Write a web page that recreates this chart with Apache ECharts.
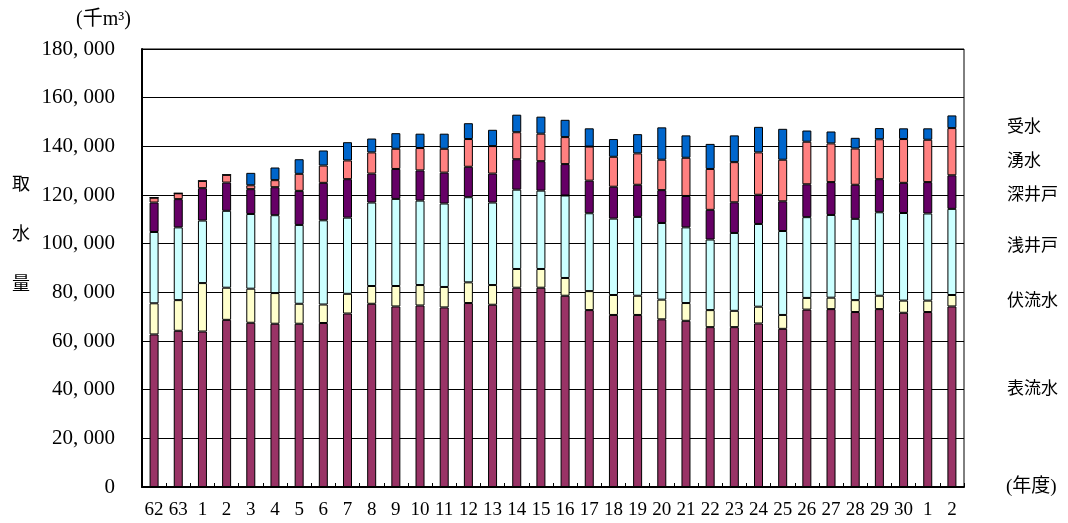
<!DOCTYPE html>
<html>
<head>
<meta charset="utf-8">
<script src="https://cdn.jsdelivr.net/npm/echarts@6.0.0/dist/echarts.min.js"></script>
<style>
  html, body { margin: 0; padding: 0; background: #fff; }
  #chart { width: 1068px; height: 523px; }
</style>
</head>
<body>
<div id="chart"></div>
<script>
// 年度（昭和62, 63, 平成1-30, 令和1, 2）
const years = ['62', '63', '1', '2', '3', '4', '5', '6', '7', '8', '9', '10', '11', '12', '13', '14', '15', '16',
  '17', '18', '19', '20', '21', '22', '23', '24', '25', '26', '27', '28', '29', '30', '1', '2'];

// 取水量（千m3）
const surfaceWater = [62700, 64200, 63900, 68700, 67500, 67100, 67100, 67400, 71300, 75300, 74200, 74600, 73800, 75600,
  74900, 81900, 81900, 78600, 72700, 70700, 70700, 68900, 68300, 65700, 65700, 67200, 65000, 72900, 73100, 71900,
  73100, 71600, 71900, 74200];
const subsurfaceWater = [12800, 12600, 19900, 13200, 14000, 12600, 8200, 7600, 8100, 7300, 8400, 8400, 8400, 8500,
  8100, 7700, 7700, 7300, 7800, 8200, 7900, 8100, 7300, 7000, 6700, 6900, 5700, 4800, 4700, 4900, 5500, 5000, 4700, 4700];
const shallowWell = [29300, 29900, 25700, 31600, 30700, 32000, 32400, 34600, 31300, 34300, 35800, 34700, 34300, 35000,
  33900, 32600, 32200, 33900, 32000, 31400, 32400, 31500, 31100, 29000, 32000, 34000, 34500, 33200, 34000, 33400,
  34300, 36000, 35800, 35400];
const deepWell = [12100, 11600, 13300, 11600, 10200, 11500, 14000, 15400, 15800, 11900, 12300, 12400, 12700, 12500,
  11900, 12500, 12100, 12900, 13400, 13100, 13200, 13500, 12900, 12200, 12600, 12000, 12200, 13500, 13500, 14000,
  13600, 12400, 12900, 13800];
const springWater = [2000, 2400, 3000, 3200, 1600, 2900, 7000, 7100, 7700, 8700, 8300, 9200, 9800, 11400,
  11300, 11100, 11300, 11100, 14000, 12300, 12900, 12500, 15700, 16800, 16500, 17400, 17100, 17500, 15900, 14900,
  16400, 18000, 17400, 19400];
const purchasedWater = [0, 0, 0, 0, 5100, 5200, 6000, 6200, 7500, 5700, 6400, 5900, 6200, 6500,
  6700, 7200, 7000, 7100, 7500, 7300, 7900, 13300, 9200, 10300, 11000, 10500, 12700, 4600, 4900, 4400,
  4600, 4400, 4700, 5200];

const yTicks = [0, 20000, 40000, 60000, 80000, 100000, 120000, 140000, 160000, 180000];

const FONT = '"Liberation Serif", "Noto Sans CJK JP", serif';

const seriesDefs = [
  { name: '表流水', data: surfaceWater, color: '#993366', labelY: 390 },
  { name: '伏流水', data: subsurfaceWater, color: '#FFFFCC', labelY: 302 },
  { name: '浅井戸', data: shallowWell, color: '#CCFFFF', labelY: 247 },
  { name: '深井戸', data: deepWell, color: '#660066', labelY: 196 },
  { name: '湧水', data: springWater, color: '#FF8080', labelY: 128 + 34 },
  { name: '受水', data: purchasedWater, color: '#0066CC', labelY: 128 }
];

const chart = echarts.init(document.getElementById('chart'), null, { renderer: 'canvas' });

// center-y placed text
const label = (text, x, cy, size) => ({
  type: 'text',
  left: x,
  top: cy - size / 2,
  style: { text: text, fontFamily: FONT, fontSize: size, fill: '#000' }
});

chart.setOption({
  animation: false,
  backgroundColor: '#fff',
  grid: {
    left: 142, right: 104, top: 49, bottom: 36,
    show: true, borderColor: '#000', borderWidth: 1, backgroundColor: '#fff'
  },
  xAxis: {
    type: 'category',
    data: years,
    axisLine: { lineStyle: { color: '#000', width: 2 } },
    axisTick: { show: true, inside: true, length: 4, interval: 0, lineStyle: { color: '#000' } },
    axisLabel: { interval: 0, margin: 14, color: '#000', fontFamily: FONT, fontSize: 19 }
  },
  yAxis: {
    type: 'value',
    min: yTicks[0],
    max: yTicks[yTicks.length - 1],
    interval: 20000,
    axisLine: { show: true, lineStyle: { color: '#000', width: 2 } },
    axisTick: { show: false },
    splitLine: { lineStyle: { color: '#000', width: 1 } },
    axisLabel: {
      margin: 27, color: '#000', fontFamily: FONT, fontSize: 21,
      formatter: v => v === 0 ? '0' : String(v).replace(/\B(?=(\d{3})+(?!\d))/g, ', ')
    }
  },
  series: seriesDefs.map(s => ({
    name: s.name,
    type: 'bar',
    stack: 'total',
    barWidth: 9,
    data: s.data,
    itemStyle: { color: s.color, borderColor: '#000', borderWidth: 1 }
  })),
  graphic: [
    label('(千m³)', 76, 20, 20),
    label('取', 12, 185, 18),
    label('水', 12, 235, 18),
    label('量', 12, 285, 18)
  ].concat(seriesDefs.map(s => label(s.name, 1007, s.labelY, 17)))
   .concat([label('(年度)', 1006, 487, 19)])
});
</script>
</body>
</html>
